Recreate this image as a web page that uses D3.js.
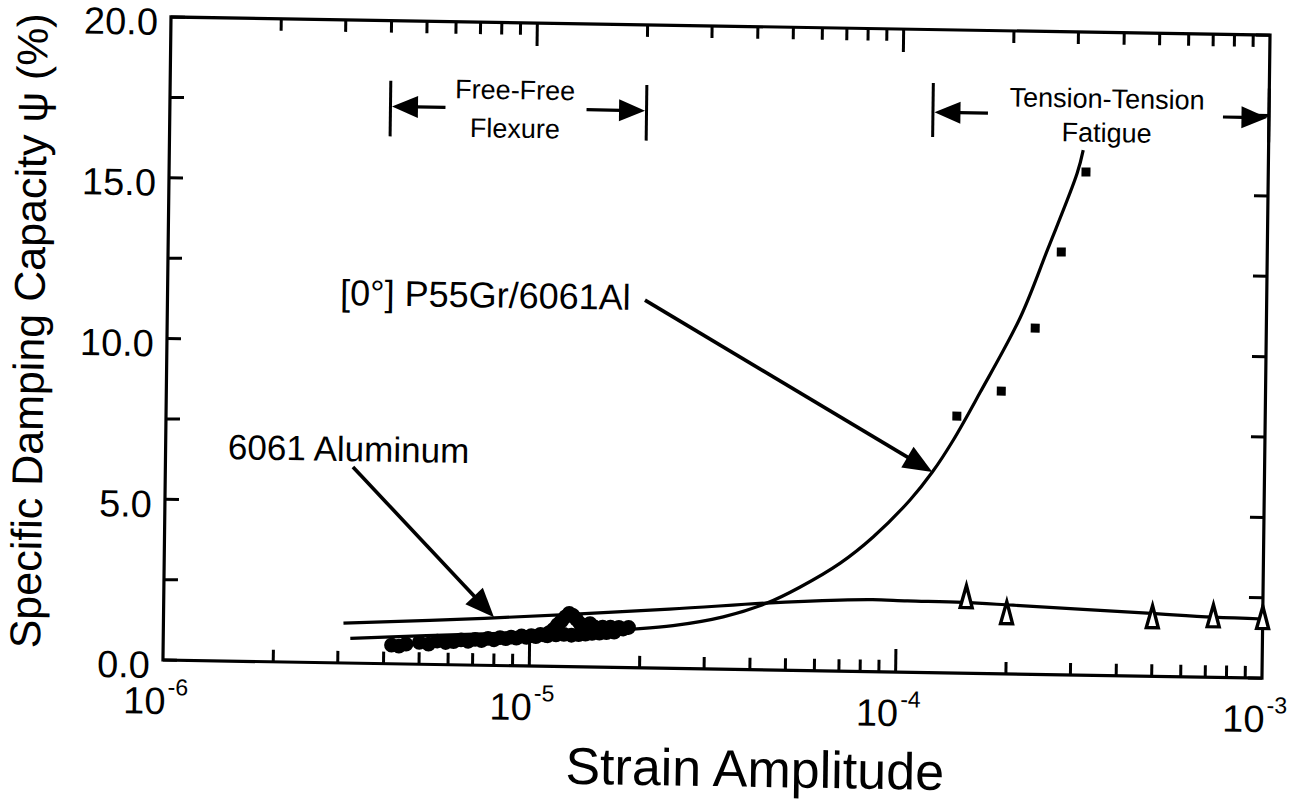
<!DOCTYPE html>
<html>
<head>
<meta charset="utf-8">
<script src="https://cdn.jsdelivr.net/npm/d3@7"></script>
<style>
  body { margin: 0; background: #fff; }
  svg { display: block; }
  text { font-family: "Liberation Sans", Arial, Helvetica, sans-serif; fill: #000; }
</style>
</head>
<body>
<svg id="chart" width="1307" height="803"></svg>
<script>
// ---------------- data ----------------
const xDomain = [1e-6, 1e-3];
const yDomain = [0, 20];
const yTickValues = [0, 2.5, 5, 7.5, 10, 12.5, 15, 17.5, 20];
const yLabelValues = [0, 5, 10, 15, 20];
const yLabelTexts = ["0.0", "5.0", "10.0", "15.0", "20.0"];
const xMajorValues = [1e-6, 1e-5, 1e-4, 1e-3];
const xMajorExponents = ["-6", "-5", "-4", "-3"];
const xTitle = "Strain Amplitude";
const yTitle = "Specific Damping Capacity \u03C8 (%)";

// 6061 Aluminum fitted curve
const alCurveStrain = [3.1e-6, 7.5e-6, 2.4e-5, 4.4e-5, 7.0e-5, 8.6e-5, 1.07e-4, 1.52e-4, 2.08e-4, 4.84e-4, 7.33e-4, 1e-3];
const alCurvePsi    = [1.24,   1.46,   1.84,   2.08,   2.21,   2.24,   2.22,    2.20,    2.14,    1.96,    1.87,    1.84];

// 6061 Aluminum tension-tension data (open triangles)
const alTriStrain = [1.55e-4, 2.0e-4, 5.0e-4, 7.33e-4, 1.0e-3];
const alTriPsi    = [2.37,    1.89,   1.84,   1.90,    1.87];

// [0°] P55Gr/6061Al fitted curve
const mmcCurveStrain = [3.24e-6, 7.46e-6, 1.4e-5, 2.0e-5, 2.46e-5, 3.37e-5, 4.43e-5, 5.44e-5, 7.0e-5, 8.59e-5, 1.08e-4, 1.24e-4, 1.41e-4, 1.66e-4, 2.13e-4, 2.51e-4, 3.01e-4, 3.12e-4];
const mmcCurvePsi    = [0.77,    0.98,    1.12,   1.22,   1.33,    1.63,    2.08,    2.59,    3.36,   4.19,    5.36,    6.24,    7.24,    8.72,    11.10,   13.20,   15.61,   16.33];

// [0°] P55Gr/6061Al tension-tension data (filled squares)
const mmcSqStrain = [1.44e-4, 1.90e-4, 2.34e-4, 2.74e-4, 3.18e-4];
const mmcSqPsi    = [7.99,    8.79,    10.77,   13.15,   15.65];

// free-free flexure data (dense filled markers)
const flexStrain = [4.2e-6, 4.4e-6, 4.6e-6, 5.0e-6, 5.3e-6, 5.6e-6, 5.9e-6, 6.2e-6, 6.5e-6, 6.8e-6,
                    7.1e-6, 7.4e-6, 7.7e-6, 8.0e-6, 8.3e-6, 8.6e-6, 8.9e-6, 9.2e-6, 9.5e-6, 9.8e-6,
                    1.01e-5, 1.04e-5, 1.07e-5, 1.10e-5, 1.13e-5, 1.16e-5, 1.19e-5, 1.22e-5, 1.25e-5, 1.28e-5,
                    1.31e-5, 1.34e-5, 1.37e-5, 1.40e-5, 1.43e-5, 1.46e-5, 1.50e-5, 1.54e-5, 1.58e-5, 1.62e-5,
                    1.66e-5, 1.70e-5, 1.75e-5, 1.80e-5, 1.86e-5,
                    1.12e-5, 1.18e-5, 1.24e-5, 1.30e-5, 1.36e-5, 1.42e-5, 1.48e-5, 1.55e-5, 1.62e-5, 1.70e-5];
const flexPsi    = [0.58, 0.55, 0.62, 0.68, 0.63, 0.73, 0.69, 0.72, 0.78, 0.74,
                    0.80, 0.77, 0.84, 0.80, 0.87, 0.84, 0.89, 0.86, 0.93, 0.89,
                    0.95, 0.92, 0.99, 0.97, 1.05, 1.15, 1.30, 1.42, 1.55, 1.66,
                    1.60, 1.48, 1.35, 1.25, 1.30, 1.35, 1.25, 1.18, 1.25, 1.15,
                    1.25, 1.15, 1.25, 1.20, 1.25,
                    0.95, 0.98, 1.00, 0.98, 1.00, 1.02, 1.05, 1.06, 1.08, 1.10];

// annotations (data coordinates)
const labelMMC = { text: "[0°] P55Gr/6061Al", x: 2.96e-6, y: 11.13 };
const arrowMMC = { x1: 2.01e-5, y1: 11.44, x2: 1.24e-4, y2: 6.24 };
const labelAl  = { text: "6061 Aluminum", x: 1.48e-6, y: 6.28 };
const arrowAl  = { x1: 3.25e-6, y1: 6.10, x2: 7.98e-6, y2: 1.50 };

const rangeFlex = { from: 4.0e-6, to: 2.0e-5, lines: ["Free-Free", "Flexure"], textX: 8.75e-6,
                    lineY: [17.62, 16.42], barTop: 18.13, barBottom: 16.40, arrowY: 17.33 };
const rangeFatigue = { from: 1.21e-4, to: 1.0e-3, lines: ["Tension-Tension", "Fatigue"], textX: 3.61e-4,
                       lineY: [17.65, 16.59], barTop: 18.34, barBottom: 16.66, arrowY: 17.43 };

// ---------------- layout ----------------
const W = 1099, H = 643;
const svg = d3.select("#chart");
// slight skew of the scanned original
const g = svg.append("g").attr("transform", "matrix(1,0.0165,-0.0125,1,171,17)");

const x = d3.scaleLog().domain(xDomain).range([0, W]);
const y = d3.scaleLinear().domain(yDomain).range([H, 0]);

const isMajor = t => xMajorValues.some(m => Math.abs(m - t) / m < 1e-6);
const xAllTicks = x.ticks().filter(t => t > xDomain[0] * 1.0001 && t < xDomain[1] * 0.9999);
const xTickData = xAllTicks.map(t => ({ v: t, len: isMajor(t) ? 23 : 12 }));

const tickW = 3;
const tickColor = "#000";
// ticks drawn as small filled rects (bottom, top, left, right)
g.selectAll(".xtb").data(xTickData).enter().append("rect").attr("class", "xtb")
  .attr("x", d => x(d.v) - tickW / 2).attr("width", tickW)
  .attr("y", d => H - d.len).attr("height", d => d.len)
  .attr("fill", tickColor);
g.selectAll(".xtt").data(xTickData).enter().append("rect").attr("class", "xtt")
  .attr("x", d => x(d.v) - tickW / 2).attr("width", tickW)
  .attr("y", 0).attr("height", d => d.len)
  .attr("fill", tickColor);
g.selectAll(".ytl").data(yTickValues).enter().append("rect").attr("class", "ytl")
  .attr("x", 0).attr("width", 14).attr("y", d => y(d) - tickW / 2).attr("height", tickW)
  .attr("fill", tickColor);
g.selectAll(".ytr").data(yTickValues).enter().append("rect").attr("class", "ytr")
  .attr("x", W - 14).attr("width", 14).attr("y", d => y(d) - tickW / 2).attr("height", tickW)
  .attr("fill", tickColor);

// frame
g.append("rect").attr("x", 0).attr("y", 0).attr("width", W).attr("height", H)
  .attr("fill", "none").attr("stroke", "#000").attr("stroke-width", 3.2);

// y tick labels
g.selectAll(".ylab").data(yLabelValues).enter().append("text")
  .attr("class", "ylab")
  .attr("x", -13).attr("y", d => y(d) + 18)
  .attr("text-anchor", "end").attr("font-size", 38)
  .text((d, i) => yLabelTexts[i]);

// x tick labels 10^n
xMajorValues.forEach((v, i) => {
  g.append("text").attr("x", x(v) + 3).attr("y", H + 54)
    .attr("text-anchor", "end").attr("font-size", 38).text("10");
  g.append("text").attr("x", x(v) + 5).attr("y", H + 35)
    .attr("text-anchor", "start").attr("font-size", 23).text(xMajorExponents[i]);
});

// axis titles
g.append("text").attr("x", 593).attr("y", H + 117)
  .attr("text-anchor", "middle").attr("font-size", 52).text(xTitle);
g.append("text").attr("transform", "translate(-123,316) rotate(-90)")
  .attr("text-anchor", "middle").attr("font-size", 43).text(yTitle);

// curves
const line = d3.line().x(d => x(d[0])).y(d => y(d[1])).curve(d3.curveCatmullRom.alpha(0.5));
g.append("path").datum(d3.zip(alCurveStrain, alCurvePsi)).attr("d", line)
  .attr("fill", "none").attr("stroke", "#000").attr("stroke-width", 3.2);
g.append("path").datum(d3.zip(mmcCurveStrain, mmcCurvePsi)).attr("d", line)
  .attr("fill", "none").attr("stroke", "#000").attr("stroke-width", 3.2);

// flexure cluster
g.selectAll(".flex").data(d3.zip(flexStrain, flexPsi)).enter().append("circle")
  .attr("class", "flex").attr("cx", d => x(d[0])).attr("cy", d => y(d[1])).attr("r", 7.4)
  .attr("fill", "#000");

// squares
g.selectAll(".sq").data(d3.zip(mmcSqStrain, mmcSqPsi)).enter().append("rect")
  .attr("class", "sq").attr("x", d => x(d[0]) - 4.5).attr("y", d => y(d[1]) - 4.5)
  .attr("width", 9).attr("height", 9).attr("fill", "#000");

// open triangles
g.selectAll(".tri").data(d3.zip(alTriStrain, alTriPsi)).enter().append("path")
  .attr("class", "tri")
  .attr("transform", d => `translate(${x(d[0])},${y(d[1])})`)
  .attr("d", "M0,-11.5 L6,10.5 L-6,10.5 Z")
  .attr("fill", "#fff").attr("stroke", "#000").attr("stroke-width", 3.4).attr("stroke-linejoin", "miter");

// arrows
function arrow(px1, py1, px2, py2, headLen, headHalf, sw) {
  const dx = px2 - px1, dy = py2 - py1, L = Math.hypot(dx, dy);
  const ux = dx / L, uy = dy / L;
  const bx = px2 - ux * headLen, by = py2 - uy * headLen;
  g.append("line").attr("x1", px1).attr("y1", py1).attr("x2", bx + ux * 2).attr("y2", by + uy * 2)
    .attr("stroke", "#000").attr("stroke-width", sw);
  g.append("path")
    .attr("d", `M${px2},${py2} L${bx - uy * headHalf},${by + ux * headHalf} L${bx + uy * headHalf},${by - ux * headHalf} Z`)
    .attr("fill", "#000");
}

arrow(x(arrowMMC.x1), y(arrowMMC.y1), x(arrowMMC.x2), y(arrowMMC.y2), 29, 12, 3.6);
arrow(x(arrowAl.x1), y(arrowAl.y1), x(arrowAl.x2), y(arrowAl.y2), 29, 12, 3.6);

g.append("text").attr("x", x(labelMMC.x)).attr("y", y(labelMMC.y))
  .attr("font-size", 36).text(labelMMC.text);
g.append("text").attr("x", x(labelAl.x)).attr("y", y(labelAl.y))
  .attr("font-size", 35).text(labelAl.text);

// range brackets
function rangeBracket(r, shaftL, shaftR) {
  const xa = x(r.from), xb = x(r.to);
  [xa, xb].forEach(xx => {
    g.append("line").attr("x1", xx).attr("x2", xx).attr("y1", y(r.barTop)).attr("y2", y(r.barBottom))
      .attr("stroke", "#000").attr("stroke-width", 3);
  });
  const ay = y(r.arrowY);
  arrow(xa + shaftL, ay, xa + 1.5, ay, 26, 11, 3.2);
  arrow(xb - shaftR, ay, xb - 1.5, ay, 26, 11, 3.2);
  r.lines.forEach((t, i) => {
    g.append("text").attr("x", x(r.textX)).attr("y", y(r.lineY[i]))
      .attr("text-anchor", "middle").attr("font-size", 27).text(t);
  });
}
rangeBracket(rangeFlex, 55, 60);
rangeBracket(rangeFatigue, 55, 46);
</script>
</body>
</html>
